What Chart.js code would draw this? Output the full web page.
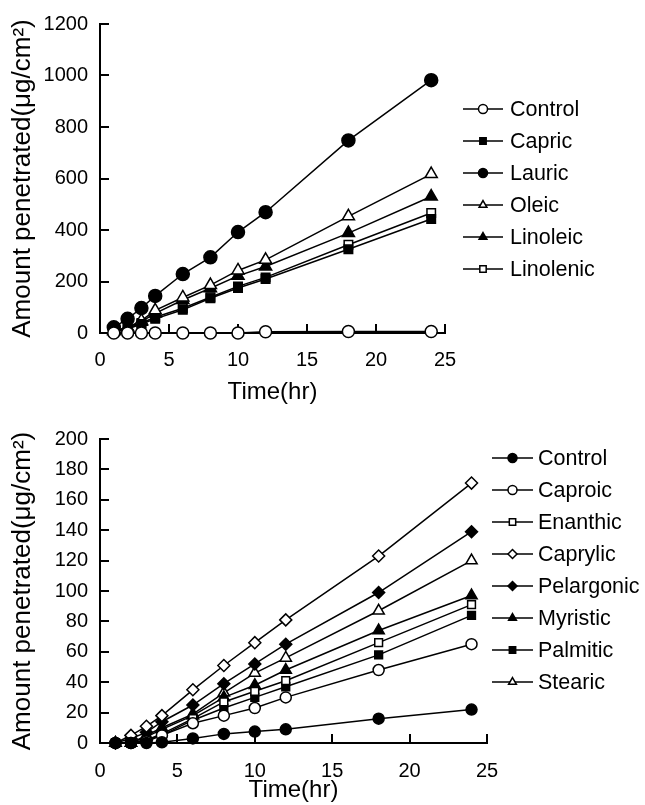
<!DOCTYPE html>
<html>
<head>
<meta charset="utf-8">
<script src="https://cdn.jsdelivr.net/npm/chart.js@4.4.1/dist/chart.umd.min.js"></script>
<style>
  html, body { margin: 0; padding: 0; background: #fff; }
  #wrap { position: relative; width: 645px; height: 805px; }
  canvas { position: absolute; left: 0; }
  #topChart { top: 0; }
  #bottomChart { top: 415px; }
</style>
</head>
<body>
<div id="wrap">
  <canvas id="topChart" width="645" height="415"></canvas>
  <canvas id="bottomChart" width="645" height="390"></canvas>
</div>
<script>
// sampling times (hr), shared by both panels
const timeHr = [1, 2, 3, 4, 6, 8, 10, 12, 18, 24]

// upper panel: unsaturated / C10-C12 fatty acids (ug/cm2)
const topControl = [0, 0, 0, 0, 0, 0, 0, 5, 6, 6]
const capric = [5, 15, 35, 55, 90, 135, 175, 210, 325, 443]
const lauric = [22, 55, 97, 144, 229, 294, 392, 469, 748, 982]
const oleic = [8, 22, 48, 88, 138, 186, 243, 284, 453, 617]
const linoleic = [8, 20, 44, 76, 128, 174, 222, 258, 388, 530]
const linolenic = [4, 16, 39, 61, 96, 139, 181, 216, 343, 466]
const topYTicks = [0, 200, 400, 600, 800, 1000, 1200]

// lower panel: saturated fatty acids (ug/cm2)
const bottomControl = [0, 0, 0, 0.5, 3, 6, 7.5, 9, 16, 22]
const caproic = [0, 0, 1, 5, 13, 18, 23, 30, 48, 65]
const enanthic = [0, 0, 2, 6, 16, 27, 34, 41, 66, 91]
const caprylic = [0, 5, 11, 18, 35, 51, 66, 81, 123, 171]
const pelargonic = [0, 3, 7, 14, 25, 39, 52, 65, 99, 139]
const myristic = [0, 0, 4, 9, 18, 30, 38, 48, 74, 97]
const palmitic = [0, 0, 2, 5, 15, 23, 30, 37, 58, 84]
const stearic = [0, 0, 5, 10, 19, 33, 46, 56, 87, 120]
const bottomYTicks = [0, 20, 40, 60, 80, 100, 120, 140, 160, 180, 200]

const xTicks = [0, 5, 10, 15, 20, 25]

const FONT = "'Liberation Sans', Arial, sans-serif"
Chart.defaults.font.family = FONT
Chart.defaults.color = "#000"

function series(label, values, style, filled, radius) {
  return {
    label: label,
    data: timeHr.map((t, i) => ({ x: t, y: values[i] })),
    pointStyle: style,
    pointRadius: style === "rectRot" ? radius + 0.5 : radius,
    pointBorderWidth: 1.5,
    pointBackgroundColor: filled ? "#000" : "#fff",
    pointBorderColor: "#000",
    borderColor: "#000",
    borderWidth: 1.5,
    tension: 0,
    clip: false,
  }
}

// tick marks pointing into the plot, like the printed figure
function drawInwardTicks(chart, len) {
  const ctx = chart.ctx
  const area = chart.chartArea
  const xs = chart.scales.x
  const ys = chart.scales.y
  ctx.save()
  ctx.strokeStyle = "#000"
  ctx.lineWidth = 2
  ctx.beginPath()
  xs.ticks.forEach((t) => {
    if (t.value === 0) return
    const px = Math.round(xs.getPixelForValue(t.value))
    ctx.moveTo(px, area.bottom)
    ctx.lineTo(px, area.bottom - len)
  })
  ys.ticks.forEach((t) => {
    if (t.value === 0) return
    const py = Math.round(ys.getPixelForValue(t.value))
    ctx.moveTo(area.left, py)
    ctx.lineTo(area.left + len, py)
  })
  ctx.stroke()
  ctx.restore()
}

// legend drawn beside the plot: line - marker - line, then the label
function drawSideLegend(chart, opts) {
  const ctx = chart.ctx
  ctx.save()
  ctx.font = opts.font
  ctx.textBaseline = "middle"
  chart.data.datasets.forEach((ds, i) => {
    const y = opts.top + i * opts.gap
    ctx.strokeStyle = "#000"
    ctx.lineWidth = 1.5
    ctx.beginPath()
    ctx.moveTo(opts.left, y)
    ctx.lineTo(opts.left + opts.lineLen, y)
    ctx.stroke()
    ctx.fillStyle = ds.pointBackgroundColor
    Chart.helpers.drawPoint(ctx, {
      pointStyle: ds.pointStyle,
      radius: opts.radius,
      rotation: 0,
      borderWidth: 1.5,
    }, opts.left + opts.lineLen / 2, y)
    ctx.fillStyle = "#000"
    ctx.fillText(ds.label, opts.textX, y + 1)
  })
  ctx.restore()
}

function decorations(legendOpts) {
  return {
    id: "decorations",
    beforeDatasetsDraw(chart) {
      drawInwardTicks(chart, 9)
    },
    afterDraw(chart) {
      drawSideLegend(chart, legendOpts)
    },
  }
}

function makeOptions(cfg) {
  return {
    responsive: false,
    animation: false,
    layout: { padding: { top: cfg.padTop, right: cfg.padRight, left: 0, bottom: 0 } },
    plugins: {
      legend: { display: false },
      tooltip: { enabled: false },
    },
    scales: {
      x: {
        type: "linear",
        min: 0,
        max: 25,
        afterBuildTicks: (scale) => { scale.ticks = xTicks.map((v) => ({ value: v })) },
        afterFit: (scale) => { scale.height = cfg.xHeight },
        grid: { display: false, drawTicks: false, tickLength: 0 },
        border: { display: true, color: "#000", width: 2 },
        ticks: { font: { size: 20 }, padding: cfg.xTickPad, callback: (v) => String(v) },
        title: { display: true, text: "Time(hr)", font: { size: 24 }, padding: { top: 0, bottom: cfg.xTitlePad } },
      },
      y: {
        type: "linear",
        min: cfg.yTicks[0],
        max: cfg.yTicks[cfg.yTicks.length - 1],
        afterBuildTicks: (scale) => { scale.ticks = cfg.yTicks.map((v) => ({ value: v })) },
        afterFit: (scale) => { scale.width = 100 },
        grid: { display: false, drawTicks: false, tickLength: 0 },
        border: { display: true, color: "#000", width: 2 },
        ticks: { font: { size: 20 }, padding: 12, callback: (v) => String(v) },
        title: { display: true, text: "Amount penetrated(\u03bcg/cm\u00b2)", font: { size: 26 }, padding: { top: 7, bottom: 0 } },
      },
    },
  }
}

new Chart(document.getElementById("topChart"), {
  type: "line",
  data: {
    datasets: [
      series("Control", topControl, "circle", false, 6),
      series("Capric", capric, "rect", true, 6),
      series("Lauric", lauric, "circle", true, 6.5),
      series("Oleic", oleic, "triangle", false, 7),
      series("Linoleic", linoleic, "triangle", true, 7),
      series("Linolenic", linolenic, "rect", false, 6),
    ],
  },
  options: makeOptions({
    padTop: 22,
    padRight: 200,
    xHeight: 82,
    xTickPad: 15,
    xTitlePad: 8,
    yTicks: topYTicks,
  }),
  plugins: [decorations({ left: 463, lineLen: 40, textX: 510, top: 109, gap: 32, radius: 4.5, font: "21.5px " + FONT })],
})

new Chart(document.getElementById("bottomChart"), {
  type: "line",
  data: {
    datasets: [
      series("Control", bottomControl, "circle", true, 5.5),
      series("Caproic", caproic, "circle", false, 5.5),
      series("Enanthic", enanthic, "rect", false, 5.5),
      series("Caprylic", caprylic, "rectRot", false, 5.5),
      series("Pelargonic", pelargonic, "rectRot", true, 5.5),
      series("Myristic", myristic, "triangle", true, 6.5),
      series("Palmitic", palmitic, "rect", true, 5.5),
      series("Stearic", stearic, "triangle", false, 6.5),
    ],
  },
  options: makeOptions({
    padTop: 17,
    padRight: 158,
    xHeight: 62,
    xTickPad: 16,
    xTitlePad: 0,
    yTicks: bottomYTicks,
  }),
  plugins: [decorations({ left: 492, lineLen: 41, textX: 538, top: 43, gap: 32, radius: 4.5, font: "21.5px " + FONT })],
})
</script>
</body>
</html>
